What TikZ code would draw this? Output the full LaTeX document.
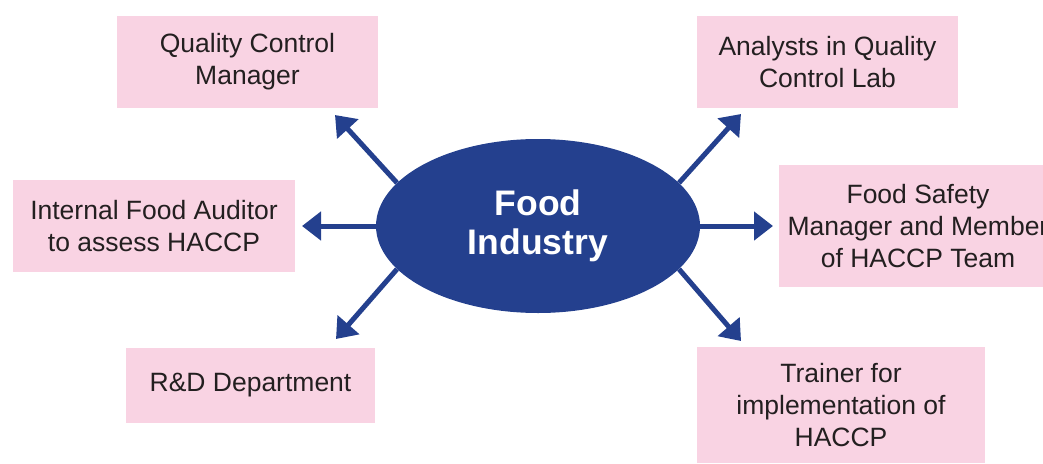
\documentclass[tikz,border=0pt]{standalone}
\usepackage{xcolor}
\usepackage{fontspec}
\setmainfont{Liberation Sans}
\usetikzlibrary{arrows.meta, positioning, calc, shapes.geometric}
\definecolor{rolepink}{HTML}{F9D3E3}
\definecolor{hubblue}{HTML}{24408E}
\definecolor{rolegray}{HTML}{231F20}

\begin{document}
\begin{tikzpicture}[
				x=1pt, y=-1pt,
				role/.style={rectangle, fill=rolepink, inner sep=0pt, align=center, text=rolegray, font=\fontsize{26.5}{32}\selectfont},
				hub/.style={ellipse, fill=hubblue, inner sep=0pt, minimum width=324pt, minimum height=174pt, align=center, text=white, font=\bfseries\fontsize{35.5}{39}\selectfont},
				link/.style={draw=hubblue, line width=5pt, -{Triangle[length=19pt, width=28pt]}}
				]
				\useasboundingbox (0,0) rectangle (1043,463);
				\node[hub] (food) at (538,226) {Food\\Industry};
				% roles round the hub
				\node[role, minimum width=261pt, minimum height=92pt] (qcm) at (247.5,62) {Quality Control\\Manager};
				\node[role, minimum width=261pt, minimum height=92pt] (lab) at (827.5,62) {Analysts in Quality\\Control Lab};
				\node[role, minimum width=282pt, minimum height=92pt] (audit) at (154,226) {Internal Food Auditor\\to assess HACCP};
				\node[role, minimum width=278pt, minimum height=122pt] (fsm) at (918,226) {Food Safety\\Manager and Member\\of HACCP Team};
				\node[role, minimum width=249pt, minimum height=75pt] (rnd) at (250.5,385.5) {R\&D Department};
				\node[role, minimum width=288pt, minimum height=116pt] (trainer) at (841,405) {Trainer for\\implementation of\\HACCP};
				% arrow tips
				\coordinate (qcm-tip) at (335,115);
				\coordinate (lab-tip) at (741,114);
				\coordinate (audit-tip) at (302,226);
				\coordinate (fsm-tip) at (773,226);
				\coordinate (rnd-tip) at (336,339);
				\coordinate (trainer-tip) at (741,341);
				\draw[link] (food.163) -- (qcm-tip);
				\draw[link] (food.17) -- (lab-tip);
				\draw[link] (food.west) -- (audit-tip);
				\draw[link] (food.east) -- (fsm-tip);
				\draw[link] (food.197) -- (rnd-tip);
				\draw[link] (food.343) -- (trainer-tip);
			\end{tikzpicture}
\end{document}
